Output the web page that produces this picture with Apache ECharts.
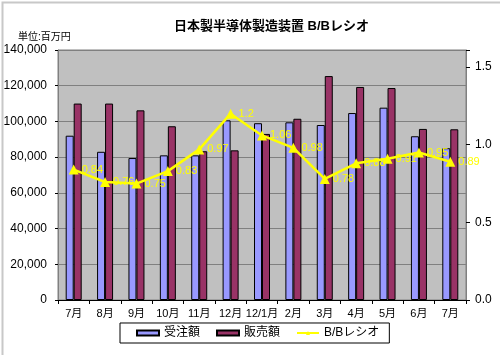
<!DOCTYPE html>
<html>
<head>
<meta charset="utf-8">
<script src="https://cdn.jsdelivr.net/npm/echarts@6/dist/echarts.min.js"></script>
<style>html,body{margin:0;padding:0;background:#fff}#c{width:500px;height:355px}</style>
</head>
<body>
<div id="c"></div>
<script>
const categories = ['7月','8月','9月','10月','11月','12月','12/1月','2月','3月','4月','5月','6月','7月'];
const orders = [92000, 83000, 79500, 81000, 81000, 100600, 99000, 99500, 98000, 104700, 107700, 91700, 85000];
const sales = [110000, 110000, 106200, 97300, 83300, 83800, 93000, 101500, 125400, 119300, 118700, 95800, 95600];
const bbRatio = [0.84, 0.76, 0.75, 0.83, 0.97, 1.2, 1.06, 0.98, 0.78, 0.88, 0.91, 0.95, 0.89];
const seriesNames = ['受注額', '販売額', 'B/Bレシオ'];

const FONT = '"Liberation Sans", Arial, "Noto Sans CJK JP", sans-serif';
const chart = echarts.init(document.getElementById('c'), null, {renderer: 'canvas'});
chart.setOption({
  animation: false,
  backgroundColor: '#ffffff',
  textStyle: {fontFamily: FONT},
  title: {
    text: '日本製半導体製造装置 B/Bレシオ',
    left: 169, top: 15,
    textStyle: {fontSize: 13, fontWeight: 'bold', color: '#000', fontFamily: FONT}
  },
  graphic: [
    {type: 'rect', left: 0, top: 0, shape: {x: 0, y: 0, width: 499, height: 354},
     style: {fill: 'none', stroke: '#c8c8c8', lineWidth: 2}, silent: true},
    {type: 'text', left: 18, top: 32,
     style: {text: '単位:百万円', font: '10px ' + FONT, fill: '#000'}}
  ],
  grid: {left: 58, right: 34, top: 50, bottom: 55, show: true,
         backgroundColor: '#c0c0c0', borderColor: '#808080', borderWidth: 1},
  legend: {
    bottom: 12, left: 120,
    padding: [4, 10, 4, 16],
    borderColor: '#000', borderWidth: 1,
    itemWidth: 22, itemHeight: 5, itemGap: 16,
    textStyle: {fontSize: 12, color: '#000', fontFamily: FONT},
    data: [
      {name: seriesNames[0], icon: 'rect'},
      {name: seriesNames[1], icon: 'rect'},
      {name: seriesNames[2]}
    ]
  },
  xAxis: {
    type: 'category', data: categories,
    axisLine: {lineStyle: {color: '#000', width: 1}},
    axisTick: {show: true, length: 4, lineStyle: {color: '#000'}},
    axisLabel: {fontSize: 11, color: '#000', margin: 8, interval: 0, fontFamily: FONT}
  },
  yAxis: [
    {
      type: 'value', min: 0, max: 140000, interval: 20000,
      axisLine: {show: true, lineStyle: {color: '#808080'}},
      axisTick: {show: true, length: 3, lineStyle: {color: '#000'}},
      splitLine: {lineStyle: {color: '#808080', width: 1}},
      axisLabel: {fontSize: 12, color: '#000', margin: 11, fontFamily: FONT,
        formatter: v => v.toLocaleString('en-US')}
    },
    {
      type: 'value', min: 0, max: 1.61, interval: 0.5,
      axisLine: {show: true, lineStyle: {color: '#808080'}},
      axisTick: {show: true, length: 4, lineStyle: {color: '#000'}},
      splitLine: {show: false},
      axisLabel: {fontSize: 12, color: '#000', margin: 9, fontFamily: FONT,
        formatter: v => (Math.abs(v * 2 - Math.round(v * 2)) < 1e-6 ? v.toFixed(1) : '')}
    }
  ],
  series: [
    {name: seriesNames[0], type: 'bar', data: orders, barWidth: 8, barGap: '0%',
     itemStyle: {color: '#9999ff', borderColor: '#000', borderWidth: 1}},
    {name: seriesNames[1], type: 'bar', data: sales, barWidth: 8, barGap: '0%',
     itemStyle: {color: '#993366', borderColor: '#000', borderWidth: 1}},
    {name: seriesNames[2], type: 'line', yAxisIndex: 1, data: bbRatio,
     symbol: 'triangle', symbolSize: 10,
     lineStyle: {color: '#ffff00', width: 2.5},
     itemStyle: {color: '#ffff00'},
     label: {show: true, position: 'right', distance: 3, color: '#ffff00',
             fontSize: 11, fontFamily: FONT}}
  ]
});
</script>
</body>
</html>
